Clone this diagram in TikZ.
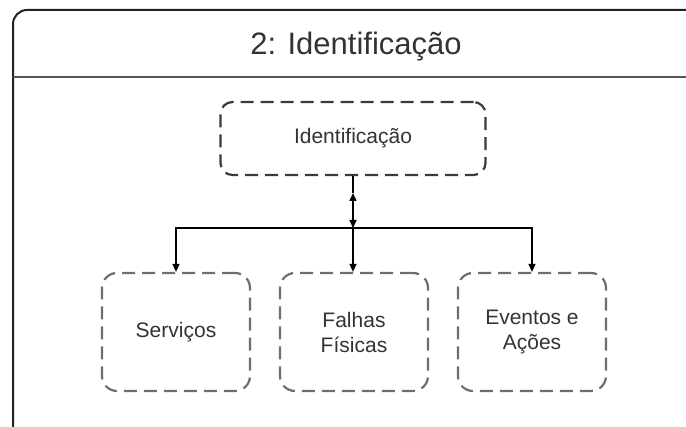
\documentclass[tikz,border=0pt]{standalone}
\usepackage{fontspec}
\setmainfont{Liberation Sans}
\usetikzlibrary {arrows.meta, positioning}
\definecolor{frameline}{HTML}{222222}
\definecolor{headline}{HTML}{555555}
\definecolor{boxdark}{HTML}{3A3A3A}
\definecolor{boxgray}{HTML}{6E6E6E}
\definecolor{txt}{HTML}{333333}

\begin{document}
\begin{tikzpicture}[x=1pt,y=1pt,on grid,node distance=178pt,>={Triangle[length=8pt,width=7pt]},
      every node/.style={text=txt,align=center},
      ibox/.style={draw=boxdark,line width=2.2pt,dash pattern=on 13pt off 7pt,rounded corners=12pt,
        minimum width=265pt,minimum height=73pt,font=\fontsize{21}{25}\selectfont},
      cbox/.style={ibox,draw=boxgray,rounded corners=15pt,minimum width=148pt,minimum height=118pt},
      link/.style={line width=1.5pt,black}]
      \useasboundingbox (0,0) rectangle (686,-427);
      \clip (0,0) rectangle (686,-427);
      \draw[frameline,line width=2pt,rounded corners=14pt] (13,-10) rectangle (700,-445);
      \draw[headline,line width=2pt] (13,-77) -- (686,-77);
      \node[font=\fontsize{31}{37}\selectfont] (title) at (356,-47) {2: Identificação};
      \node[ibox]   (ident) at (353,-138.5) {Identificação};
      \node[cbox]   (falhas) at (354,-332) {Falhas\\Físicas};
      \node[cbox]   (serv) [left=of falhas] {Serviços};
      \node[cbox]   (event) [right=of falhas] {Eventos e\\Ações};
      \coordinate (bar) at (353,-228);
      \coordinate (mid) at (353,-193);
      \draw[link] (ident.south) -- (mid);
      \draw[link,<->] (mid) -- (bar);
      \draw[link,->] (bar) -| (serv.north);
      \draw[link,->] (bar) -- (falhas.north -| bar);
      \draw[link,->] (bar) -| (event.north);
    \end{tikzpicture}
\end{document}
